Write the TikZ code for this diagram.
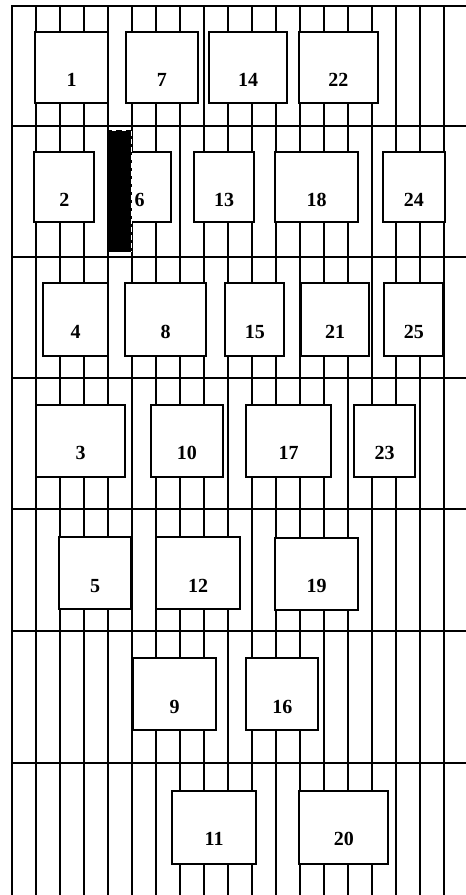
\documentclass[tikz,border=0pt]{standalone}
\usepackage{fontspec}
\setmainfont{Liberation Serif}
\begin{document}
\begin{tikzpicture}[x=1pt,y=-1pt,
  gridline/.style={line width=2pt,black},
  fusebox/.style={draw=black,fill=white,line width=2pt,rectangle,inner sep=0pt},
  lbl/.style={inner sep=0pt,font=\fontsize{20}{20}\selectfont\bfseries},
  blackbar/.style={fill=black,draw=none}]
\useasboundingbox (0,0) rectangle (466,895);
\fill[white] (0,0) rectangle (466,895);
% vertical lines
\foreach \k in {0,...,18}{
  \coordinate (vt\k) at ({12+24*\k},5.5);
  \coordinate (vb\k) at ({12+24*\k},895);
  \draw[gridline] (vt\k) -- (vb\k);
}
% horizontal lines
\foreach \y [count=\i] in {5.5,126.3,257,378.3,509,630.5,763}{
  \coordinate (hl\i) at (11,\y);
  \coordinate (hr\i) at (466,\y);
  \draw[gridline] (hl\i) -- (hr\i);
}
% box macro: name, x1, y1, x2, y2, label y
\newcommand\fbx[6]{%
  \node[fusebox,minimum width={(#4)-(#2)},minimum height={(#5)-(#3)}] (b#1) at ({((#2)+(#4))/2},{((#3)+(#5))/2}) {};
  \node[lbl] (t#1) at ({((#2)+(#4))/2},#6) {#1};
}
% row 1
\fbx{1}{35}{31.7}{108}{103}{80}
\fbx{7}{125.7}{31.7}{198}{103}{80}
\fbx{14}{209}{31.7}{287}{103}{80}
\fbx{22}{299}{31.7}{377.7}{103}{80}
% row 2
\fbx{2}{34.3}{151.7}{94.3}{222.3}{200}
\fbx{6}{108}{151.7}{171}{222.3}{200}
\fbx{13}{194}{151.7}{254}{222.3}{200}
\fbx{18}{275}{151.7}{358.3}{222.3}{200}
\fbx{24}{382.7}{151.7}{445}{222.3}{200}
% row 3
\fbx{4}{43.3}{283.3}{107.7}{356}{331.7}
\fbx{8}{125.3}{283.3}{206}{356}{331.7}
\fbx{15}{225.3}{283.3}{284.3}{356}{331.7}
\fbx{21}{301}{283.3}{369.3}{356}{331.7}
\fbx{25}{384.3}{283.3}{443.3}{356}{331.7}
% row 4
\fbx{3}{36}{405}{125.3}{476.7}{453.3}
\fbx{10}{151}{405}{222.7}{476.7}{453.3}
\fbx{17}{246.3}{405}{331}{476.7}{453.3}
\fbx{23}{354.3}{405}{415}{476.7}{453.3}
% row 5
\fbx{5}{59.3}{537.3}{130.7}{609}{586}
\fbx{12}{156.3}{537.3}{240}{609}{586}
\fbx{19}{275}{537.7}{358.3}{610}{586}
% row 6
\fbx{9}{133.3}{658.3}{216}{729.5}{706.7}
\fbx{16}{246.3}{658.3}{318.3}{730}{706.7}
% row 7
\fbx{11}{172.3}{791}{256}{863.7}{839}
\fbx{20}{299.3}{791}{388.3}{863.7}{839}
% black bar
\fill[blackbar] (106.8,130) rectangle (132.3,252.3);
\draw[white,line width=0.6pt,dash pattern=on 5pt off 3pt] (131.4,131) -- (131.4,251.5);
\draw[white,line width=0.6pt,dash pattern=on 4pt off 6pt] (112,130.6) -- (131,130.6);
\end{tikzpicture}
\end{document}
